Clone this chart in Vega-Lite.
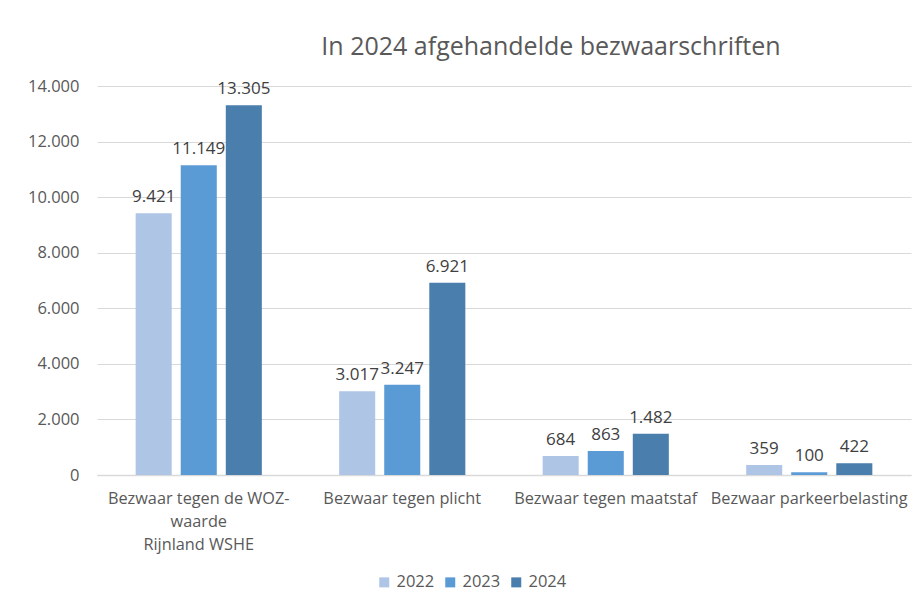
{
  "$schema": "https://vega.github.io/schema/vega-lite/v6.json",
  "autosize": "none",
  "width": 814,
  "height": 389,
  "padding": {"left": 97, "top": 86, "right": 7, "bottom": 128},
  "background": "white",
  "config": {
    "locale": {"number": {"decimal": ",", "thousands": ".", "grouping": [3], "currency": ["€", ""]}},
    "font": "Open Sans",
    "view": {"stroke": null}
  },
  "title": {
    "text": "In 2024 afgehandelde bezwaarschriften",
    "font": "Open Sans",
    "fontSize": 25,
    "fontWeight": "normal",
    "color": "#595959",
    "anchor": "middle",
    "dx": 47,
    "offset": 18
  },
  "data": {
    "values": [
      {"cat": "Bezwaar tegen de WOZ-|waarde|Rijnland WSHE", "jaar": "2022", "v": 9421},
      {"cat": "Bezwaar tegen de WOZ-|waarde|Rijnland WSHE", "jaar": "2023", "v": 11149},
      {"cat": "Bezwaar tegen de WOZ-|waarde|Rijnland WSHE", "jaar": "2024", "v": 13305},
      {"cat": "Bezwaar tegen plicht", "jaar": "2022", "v": 3017},
      {"cat": "Bezwaar tegen plicht", "jaar": "2023", "v": 3247},
      {"cat": "Bezwaar tegen plicht", "jaar": "2024", "v": 6921},
      {"cat": "Bezwaar tegen maatstaf", "jaar": "2022", "v": 684},
      {"cat": "Bezwaar tegen maatstaf", "jaar": "2023", "v": 863},
      {"cat": "Bezwaar tegen maatstaf", "jaar": "2024", "v": 1482},
      {"cat": "Bezwaar parkeerbelasting", "jaar": "2022", "v": 359},
      {"cat": "Bezwaar parkeerbelasting", "jaar": "2023", "v": 100},
      {"cat": "Bezwaar parkeerbelasting", "jaar": "2024", "v": 422}
    ]
  },
  "encoding": {
    "x": {
      "field": "cat",
      "type": "nominal",
      "sort": null,
      "scale": {"paddingInner": 0.38, "paddingOuter": 0.19},
      "axis": {
        "title": null,
        "labelAngle": 0,
        "labelExpr": "split(datum.label, '|')",
        "labelFontSize": 16.3,
        "labelColor": "#595959",
        "labelPadding": 15,
        "labelLineHeight": 23,
        "labelLimit": 300,
        "ticks": false,
        "domainColor": "#d9d9d9",
        "domainWidth": 1.5
      }
    },
    "xOffset": {"field": "jaar", "type": "nominal", "scale": {"paddingInner": 0.2}},
    "y": {
      "field": "v",
      "type": "quantitative",
      "scale": {"domain": [0, 14000]},
      "axis": {
        "title": null,
        "values": [0, 2000, 4000, 6000, 8000, 10000, 12000, 14000],
        "format": ",d",
        "labelFontSize": 16.5,
        "labelColor": "#595959",
        "labelPadding": 18,
        "ticks": false,
        "domain": false,
        "gridColor": "#d9d9d9",
        "gridWidth": 1.2
      }
    }
  },
  "layer": [
    {
      "mark": {"type": "bar"},
      "encoding": {
        "color": {
          "field": "jaar",
          "type": "nominal",
          "scale": {"domain": ["2022", "2023", "2024"], "range": ["#AEC5E6", "#5B9BD5", "#4A7EAD"]},
          "legend": {
            "title": null,
            "orient": "none",
            "direction": "horizontal",
            "legendX": 279,
            "legendY": 488,
            "symbolType": "square",
            "symbolSize": 100,
            "symbolStrokeWidth": 0,
            "labelFontSize": 16.5,
            "labelColor": "#595959",
            "columnPadding": 7,
            "labelOffset": 4
          }
        }
      }
    },
    {
      "mark": {"type": "text", "baseline": "bottom", "dy": -7, "fontSize": 17, "color": "#404040"},
      "encoding": {
        "text": {"field": "v", "type": "quantitative", "format": ",d"}
      }
    }
  ]
}
